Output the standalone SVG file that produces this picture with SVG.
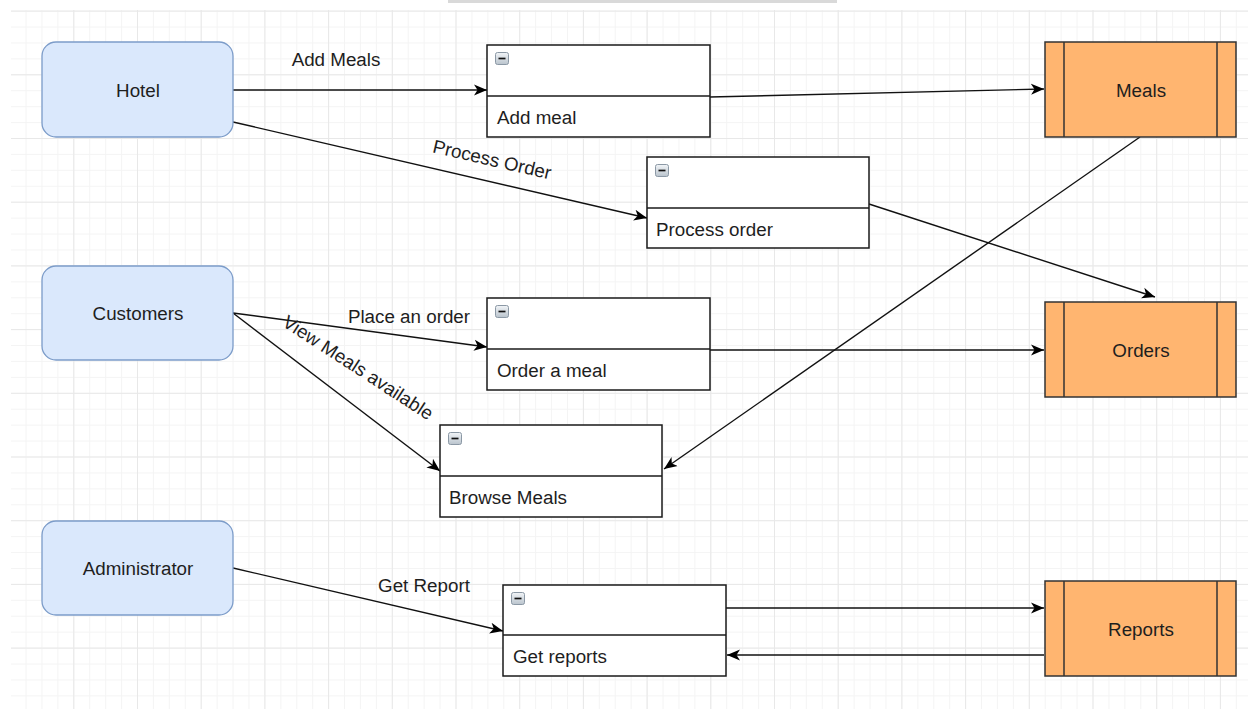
<svg xmlns="http://www.w3.org/2000/svg" width="1248" height="709" viewBox="0 0 1248 709">
  <defs>
    <pattern id="minor" patternUnits="userSpaceOnUse" x="9.6" y="10.6" width="15.925" height="15.925">
      <path d="M0,0.5 H15.925 M0.5,0 V15.925" fill="none" stroke="#f4f4f4" stroke-width="1"/>
    </pattern>
    <pattern id="major" patternUnits="userSpaceOnUse" x="9.6" y="10.6" width="63.7" height="63.7">
      <path d="M0,0.5 H63.7 M0.5,0 V63.7" fill="none" stroke="#e8e8e8" stroke-width="1"/>
    </pattern>
    <linearGradient id="icon" x1="0" y1="0" x2="0" y2="1">
      <stop offset="0" stop-color="#f2f5f8"/>
      <stop offset="1" stop-color="#b9c3cc"/>
    </linearGradient>
    <marker id="arr" markerUnits="userSpaceOnUse" markerWidth="14" markerHeight="12" refX="13" refY="6" orient="auto" viewBox="0 0 14 12">
      <path d="M0,0.5 L13,6 L0,11.5 L3.5,6 Z" fill="#000"/>
    </marker>
    <g id="ico">
      <rect x="0.5" y="0.5" width="13" height="12" rx="2" fill="url(#icon)" stroke="#8b98a5"/>
      <path d="M3.5,6.5 H10.5" stroke="#111" stroke-width="1.7"/>
    </g>
  </defs>
  <style>
    .ent { fill: #dae8fc; stroke: #7c9cc9; stroke-width: 1.3; }
    .proc { fill: #ffffff; stroke: #1a1a1a; stroke-width: 1.5; }
    .store { fill: #ffb570; stroke: #333333; stroke-width: 1.5; }
    .t { font-family: "Liberation Sans", Arial, sans-serif; font-size: 18.8px; fill: #1e1e1e; }
    .c { text-anchor: middle; }
    .edge { fill: none; stroke: #111; stroke-width: 1.4; marker-end: url(#arr); }
  </style>
  <rect width="1248" height="709" fill="#ffffff"/>
  <rect x="11" y="10" width="1237" height="699" fill="url(#minor)"/>
  <rect x="11" y="10" width="1237" height="699" fill="url(#major)"/>
  <rect x="448" y="0" width="389" height="3" fill="#d9d9d9"/>

  <g id="connectors">
    <line class="edge" x1="233" y1="90" x2="487" y2="90"/>
    <line class="edge" x1="710" y1="97" x2="1044" y2="89"/>
    <line class="edge" x1="233" y1="122" x2="647" y2="218"/>
    <line class="edge" x1="869" y1="204" x2="1155" y2="297"/>
    <line class="edge" x1="1140" y1="137" x2="664" y2="469"/>
    <line class="edge" x1="233" y1="313" x2="487" y2="347"/>
    <line class="edge" x1="233" y1="313" x2="440" y2="471"/>
    <line class="edge" x1="707" y1="350" x2="1044" y2="350"/>
    <line class="edge" x1="233" y1="568" x2="503" y2="631"/>
    <line class="edge" x1="726" y1="608" x2="1044" y2="608"/>
    <line class="edge" x1="1044" y1="655" x2="727" y2="655"/>
    <text class="t c" x="336" y="66">Add Meals</text>
    <text class="t c" transform="translate(492,160) rotate(13)" y="6">Process Order</text>
    <text class="t c" x="409" y="323">Place an order</text>
    <text class="t c" transform="translate(358,368) rotate(33)" y="6">View Meals available</text>
    <text class="t c" x="424" y="592">Get Report</text>
  </g>

  <g id="hotel">
    <rect class="ent" x="42" y="42" width="191" height="95" rx="14"/>
    <text class="t c" x="138" y="96.5">Hotel</text>
  </g>
  <g id="customers">
    <rect class="ent" x="42" y="266" width="191" height="94" rx="14"/>
    <text class="t c" x="138" y="319.5">Customers</text>
  </g>
  <g id="administrator">
    <rect class="ent" x="42" y="521" width="191" height="94" rx="14"/>
    <text class="t c" x="138" y="574.5">Administrator</text>
  </g>

  <g id="add-meal">
    <rect class="proc" x="487" y="45" width="223" height="92"/>
    <line class="proc" x1="487" y1="96" x2="710" y2="96"/>
    <use href="#ico" x="495" y="52"/>
    <text class="t" x="497" y="124">Add meal</text>
  </g>
  <g id="process-order">
    <rect class="proc" x="647" y="157" width="222" height="91"/>
    <line class="proc" x1="647" y1="208" x2="869" y2="208"/>
    <use href="#ico" x="655" y="164"/>
    <text class="t" x="656" y="235.5">Process order</text>
  </g>
  <g id="order-a-meal">
    <rect class="proc" x="487" y="298" width="223" height="92"/>
    <line class="proc" x1="487" y1="349" x2="710" y2="349"/>
    <use href="#ico" x="495" y="305"/>
    <text class="t" x="497" y="377">Order a meal</text>
  </g>
  <g id="browse-meals">
    <rect class="proc" x="440" y="425" width="222" height="92"/>
    <line class="proc" x1="440" y1="476" x2="662" y2="476"/>
    <use href="#ico" x="448" y="432"/>
    <text class="t" x="449" y="503.5">Browse Meals</text>
  </g>
  <g id="get-reports">
    <rect class="proc" x="503" y="585" width="223" height="91"/>
    <line class="proc" x1="503" y1="635" x2="726" y2="635"/>
    <use href="#ico" x="511" y="592"/>
    <text class="t" x="513" y="662.5">Get reports</text>
  </g>

  <g id="meals">
    <rect class="store" x="1045" y="42" width="191" height="95"/>
    <line class="store" x1="1064" y1="42" x2="1064" y2="137"/>
    <line class="store" x1="1217" y1="42" x2="1217" y2="137"/>
    <text class="t c" x="1141" y="96.5">Meals</text>
  </g>
  <g id="orders">
    <rect class="store" x="1045" y="302" width="191" height="95"/>
    <line class="store" x1="1064" y1="302" x2="1064" y2="397"/>
    <line class="store" x1="1217" y1="302" x2="1217" y2="397"/>
    <text class="t c" x="1141" y="356.5">Orders</text>
  </g>
  <g id="reports">
    <rect class="store" x="1045" y="581" width="191" height="95"/>
    <line class="store" x1="1064" y1="581" x2="1064" y2="676"/>
    <line class="store" x1="1217" y1="581" x2="1217" y2="676"/>
    <text class="t c" x="1141" y="635.5">Reports</text>
  </g>
</svg>
